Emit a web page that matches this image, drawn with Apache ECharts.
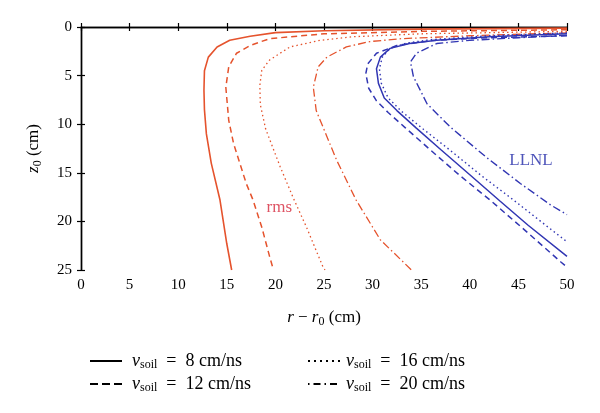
<!DOCTYPE html>
<html>
<head>
<meta charset="utf-8">
<script src="https://cdn.jsdelivr.net/npm/echarts@6/dist/echarts.min.js"></script>
<style>html,body{margin:0;padding:0;background:#fff}#c{width:600px;height:413px}</style>
</head>
<body>
<div id="c"></div>
<script>
// ---- data (x = r - r0 [cm], y = z0 [cm]) ----
const speeds = [8, 12, 16, 20];
const rms8  = [[50,0.12],[35,0.22],[25,0.38],[20,0.58],[17.4,0.96],[15.3,1.37],[14.0,2.05],[13.1,3.1],[12.7,4.5],[12.65,6.5],[12.7,8.5],[12.9,11],[13.4,14],[14.3,17.8],[15.0,22.3],[15.5,25]];
const rms12 = [[50,0.28],[35,0.45],[25,0.7],[19.4,1.2],[17.4,1.9],[16.0,2.7],[15.2,4.1],[14.9,6.2],[15.2,9.6],[15.7,12],[17.0,16.1],[17.7,17.8],[18.6,20.6],[19.4,23.6],[19.8,25]];
const rms16 = [[50,0.45],[35,0.7],[28,1.0],[24.6,1.37],[21.5,2.05],[19.4,3.4],[18.6,4.45],[18.4,6],[18.45,8],[19.0,10.5],[20.5,14.4],[21.8,17.5],[23.2,20.6],[24.9,24.7],[25.1,25]];
const rms20 = [[50,0.6],[40,0.9],[33,1.2],[29.7,1.5],[27.3,2.05],[25.3,3.1],[24.4,4.1],[23.9,6.2],[24.2,8.6],[26.3,13.7],[28.3,17.8],[30.8,21.9],[34.0,25]];
const llnl8  = [[50,0.7],[42,1.0],[36.6,1.37],[33.8,1.7],[31.8,2.2],[30.8,3.1],[30.4,4.3],[30.6,5.8],[31.2,7.3],[32.5,8.6],[34.5,10.4],[37,12.6],[40,15.2],[43.1,17.9],[46,20.4],[50,23.6]];
const llnl12 = [[50,0.9],[42,1.1],[36,1.4],[32.5,1.9],[30.4,2.7],[29.5,3.8],[29.3,4.8],[29.6,6.3],[30.4,7.6],[31.6,8.8],[33.4,10.4],[36,12.7],[39,15.3],[42.2,17.9],[45.2,20.5],[49.4,24.2],[50,24.7]];
const llnl16 = [[50,0.6],[42,0.9],[36,1.3],[33.5,1.65],[31.8,2.2],[31.0,3.1],[30.7,4.3],[30.9,5.8],[31.6,7.3],[33,8.7],[35.2,10.5],[38,12.7],[41.2,15.3],[44.5,17.8],[47.3,20],[50,22.1]];
const llnl20 = [[50,0.85],[45,1.1],[40,1.37],[36.6,1.7],[34.5,2.7],[33.9,3.6],[34.2,5.1],[35.6,7.9],[38,10.3],[41.7,13.4],[45.2,16.1],[48.3,18.3],[50,19.3]];
const rmsLabel = {text: 'rms', coord: [20.4, 18.6]};
const llnlLabel = {text: 'LLNL', coord: [46.3, 13.7]};

const RED = '#e5532d', BLUE = '#3136b3';
const dashes = ['solid', [6, 4], [1.5, 3], [8, 3, 1.5, 3]];
const legendDashes = ['solid', [8, 4], [2, 4], [1.5, 4, 7, 4]];
const FONT = 'Liberation Serif';

function curve(data, color, idx, width) {
  return {type: 'line', data: data, showSymbol: false, symbol: 'none', silent: true,
    lineStyle: {color: color, width: width, type: dashes[idx]}, z: 3};
}
function textMark(lbl, color) {
  return {type: 'scatter', data: [lbl.coord], symbolSize: 0, silent: true, z: 5,
    label: {show: true, position: 'inside', formatter: lbl.text, color: color, fontFamily: FONT, fontSize: 17}};
}
const series = [
  curve(rms8, RED, 0, 1.6), curve(rms12, RED, 1, 1.5), curve(rms16, RED, 2, 1.3), curve(rms20, RED, 3, 1.3),
  curve(llnl8, BLUE, 0, 1.5), curve(llnl12, BLUE, 1, 1.5), curve(llnl16, BLUE, 2, 1.4), curve(llnl20, BLUE, 3, 1.4),
  textMark(rmsLabel, '#d6283c'), textMark(llnlLabel, '#2229a8')
];
speeds.forEach((s, i) => {
  series.push({type: 'line', name: String(s), data: [], symbol: 'none', showSymbol: false,
    itemStyle: {color: '#000', opacity: 0}, lineStyle: {color: '#000', width: 1.3, type: legendDashes[i], opacity: 1}});
});

function makeRich(pad) {
  return {
    v: {fontFamily: FONT, fontStyle: 'italic', fontSize: 18, color: '#000', lineHeight: 20, padding: [0, 0, 0, pad]},
    s: {fontFamily: FONT, fontSize: 12, color: '#000', lineHeight: 10, verticalAlign: 'bottom'},
    t: {fontFamily: FONT, fontSize: 18, color: '#000', lineHeight: 20}
  };
}
function legendFmt(name) { return '{v|v}{s|soil}{t|  =  ' + name + ' cm/ns}'; }
function legend(left, names, pad) {
  return {orient: 'vertical', left: left, top: 347, itemWidth: 32, itemHeight: 14, itemGap: 4,
    data: names, formatter: legendFmt, selectedMode: false,
    itemStyle: {opacity: 0, color: 'transparent', borderWidth: 0},
    textStyle: {rich: makeRich(pad), fontFamily: FONT, fontSize: 18}};
}
const axisLine = {show: true, lineStyle: {color: '#000', width: 1.4}};
const tick = {show: true, inside: true, length: 4, lineStyle: {color: '#000', width: 1.2}};
const lab = {color: '#000', fontFamily: FONT, fontSize: 15};
const nameRich = {
  i: {fontFamily: FONT, fontStyle: 'italic', fontSize: 17, lineHeight: 20},
  sub: {fontFamily: FONT, fontSize: 12, lineHeight: 10, verticalAlign: 'bottom'}
};

const option = {
  animation: false,
  backgroundColor: '#fff',
  grid: {left: 81, right: 33, top: 27, bottom: 143},
  legend: [legend(84, [String(speeds[0]), String(speeds[1])], 5), legend(302, [String(speeds[2]), String(speeds[3])], 1)],
  xAxis: [
    {type: 'value', position: 'bottom', min: 0, max: 50, interval: 5, axisLine: axisLine, axisTick: tick,
     axisLabel: Object.assign({margin: 8}, lab), splitLine: {show: false},
     name: '{i|r} − {i|r}{sub|0} (cm)', nameLocation: 'middle', nameGap: 38,
     nameTextStyle: {fontFamily: FONT, fontSize: 17, color: '#000', rich: nameRich}},
    {type: 'value', position: 'top', min: 0, max: 50, interval: 5, axisLine: axisLine, axisTick: tick,
     axisLabel: {show: false}, splitLine: {show: false}}
  ],
  yAxis: [
    {type: 'value', position: 'left', inverse: true, min: 0, max: 25, interval: 5, axisLine: axisLine, axisTick: tick,
     axisLabel: Object.assign({margin: 9}, lab), splitLine: {show: false},
     name: '{i|z}{sub|0} (cm)', nameLocation: 'middle', nameGap: 37, nameRotate: 90,
     nameTextStyle: {fontFamily: FONT, fontSize: 17, color: '#000', rich: nameRich}},
    {type: 'value', position: 'right', inverse: true, min: 0, max: 25, interval: 5, axisLine: axisLine, axisTick: tick,
     axisLabel: {show: false}, splitLine: {show: false}}
  ],
  series: series
};
const chart = echarts.init(document.getElementById('c'), null, {renderer: 'canvas'});
chart.setOption(option);
</script>
</body>
</html>
